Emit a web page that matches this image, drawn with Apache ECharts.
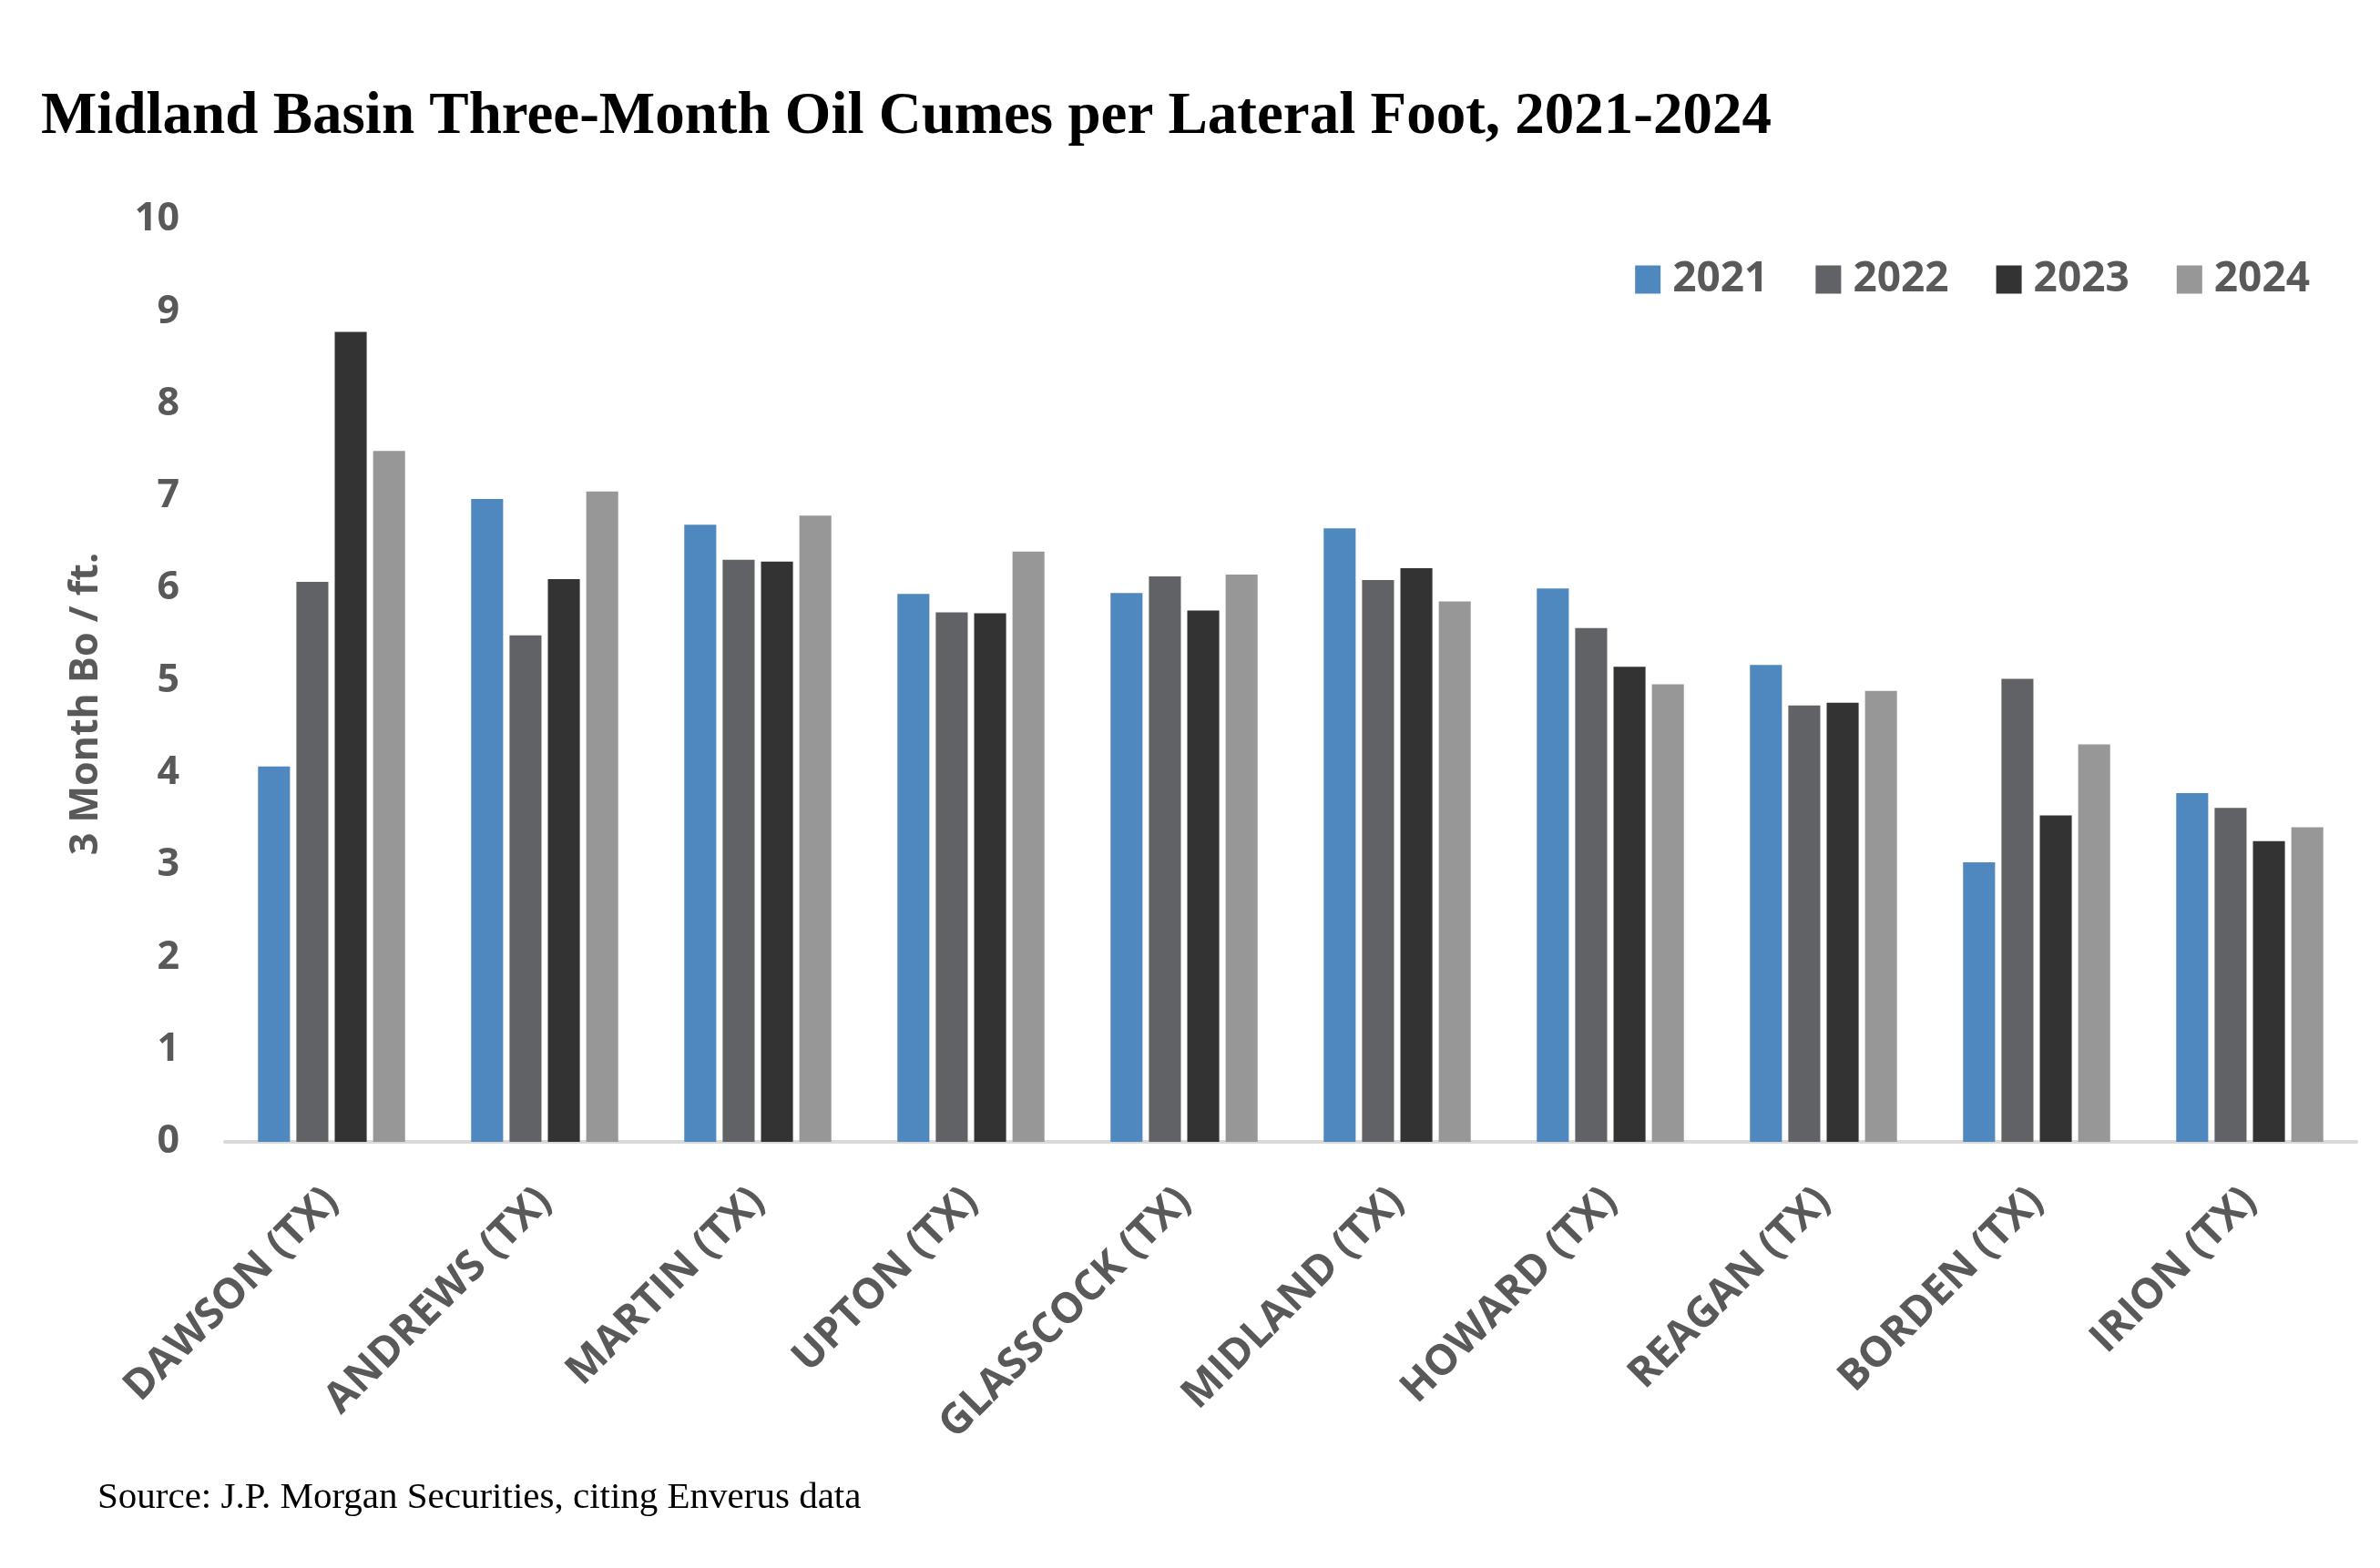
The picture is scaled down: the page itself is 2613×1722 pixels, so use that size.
<!DOCTYPE html>
<html>
<head>
<meta charset="utf-8">
<script src="https://cdn.jsdelivr.net/npm/echarts@6/dist/echarts.min.js"></script>
<style>
html,body{margin:0;padding:0;background:#fff;}
#chart{width:2613px;height:1722px;}
</style>
</head>
<body>
<div id="chart"></div>
<script>
const categories = ['DAWSON (TX)','ANDREWS (TX)','MARTIN (TX)','UPTON (TX)','GLASSCOCK (TX)','MIDLAND (TX)','HOWARD (TX)','REAGAN (TX)','BORDEN (TX)','IRION (TX)'];
const seriesNames = ['2021','2022','2023','2024'];
const values2021 = [4.07, 6.97, 6.69, 5.94, 5.95, 6.65, 6.00, 5.17, 3.03, 3.78];
const values2022 = [6.07, 5.49, 6.31, 5.74, 6.13, 6.09, 5.57, 4.73, 5.02, 3.62];
const values2023 = [8.78, 6.10, 6.29, 5.73, 5.76, 6.22, 5.15, 4.76, 3.54, 3.26];
const values2024 = [7.49, 7.05, 6.79, 6.40, 6.15, 5.86, 4.96, 4.89, 4.31, 3.41];
const yTicks = [0,1,2,3,4,5,6,7,8,9,10];
const colors = ['#4F88BE','#616266','#333333','#979797'];

const allValues = [values2021, values2022, values2023, values2024];
const chart = echarts.init(document.getElementById('chart'));
const labelFont = '"Open Sans", sans-serif';
chart.setOption({
  animation: false,
  backgroundColor: '#ffffff',
  title: [{
    text: 'Midland Basin Three-Month Oil Cumes per Lateral Foot, 2021-2024',
    left: 40, top: 92,
    textStyle: {fontFamily: '"Liberation Serif", serif', fontWeight: 'bold', fontSize: 65, color: '#000'}
  },{
    text: 'Source: J.P. Morgan Securities, citing Enverus data',
    left: 102, top: 1620,
    textStyle: {fontFamily: '"Liberation Serif", serif', fontWeight: 'normal', fontSize: 41, color: '#000'}
  }],
  graphic: [{
    type: 'text',
    x: 95, y: 773,
    rotation: Math.PI / 2,
    style: {
      text: '3 Month Bo / ft.',
      fontFamily: labelFont, fontWeight: 'bold', fontSize: 43, fill: '#595959',
      align: 'center', verticalAlign: 'middle'
    }
  }],
  legend: {
    data: seriesNames,
    right: 72, top: 279,
    itemWidth: 28, itemHeight: 31, itemGap: 52,
    icon: 'rect',
    textStyle: {fontFamily: labelFont, fontWeight: 'bold', fontSize: 46, color: '#595959', padding: [0,0,0,8]}
  },
  grid: {left: 247, right: 26, top: 241, bottom: 468, containLabel: false},
  xAxis: {
    type: 'category',
    data: categories,
    axisLine: {show: true, lineStyle: {color: '#D9D9D9', width: 4}},
    axisTick: {show: false},
    axisLabel: {rotate: 45, margin: 58, interval: 0, fontFamily: labelFont, fontWeight: 'bold', fontSize: 46, color: '#595959'}
  },
  yAxis: {
    type: 'value',
    min: 0, max: 10, interval: 1,
    axisLine: {show: false},
    axisTick: {show: false},
    splitLine: {show: false},
    axisLabel: {margin: 50, fontFamily: labelFont, fontWeight: 'bold', fontSize: 43, color: '#595959',
      formatter: v => yTicks.includes(v) ? String(v) : ''}
  },
  series: seriesNames.map((n, i) => ({
    name: n,
    type: 'bar',
    data: allValues[i],
    itemStyle: {color: colors[i]},
    barGap: '20%',
    barCategoryGap: '31%'
  }))
});
</script>
</body>
</html>
